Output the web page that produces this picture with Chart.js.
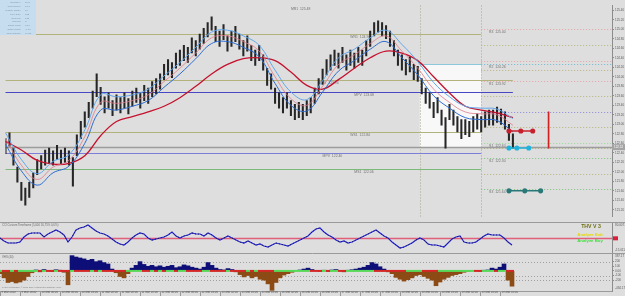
<!DOCTYPE html>
<html>
<head>
<meta charset="utf-8">
<script src="https://cdn.jsdelivr.net/npm/chart.js"></script>
<style>
  html, body { margin: 0; padding: 0; background: #dedede; }
  #wrap { position: relative; width: 625px; height: 296px; overflow: hidden; background: #dedede; }
  canvas { position: absolute; left: 0; }
</style>
</head>
<body>
<div id="wrap">
  <canvas id="mainChart" width="625" height="222" style="top:0px"></canvas>
  <canvas id="oscChart" width="625" height="31" style="top:222px"></canvas>
  <canvas id="histChart" width="625" height="43" style="top:253px"></canvas>
</div>
<script>
// bars on the time axis (last ones are empty space to the right)
var N = 154;
var categories = [];
for (var i = 0; i < N; i++) categories.push('bar ' + i);

var dateLabels = ['9 Mar 2010', '9 Mar 16:00', '10 Mar 00:00', '10 Mar 08:00', '10 Mar 16:00',
  '11 Mar 00:00', '11 Mar 08:00', '11 Mar 16:00', '12 Mar 00:00', '12 Mar 08:00', '12 Mar 16:00',
  '15 Mar 02:00', '15 Mar 10:00', '15 Mar 18:00', '16 Mar 02:00', '16 Mar 10:00', '16 Mar 18:00',
  '17 Mar 02:00', '17 Mar 10:00', '17 Mar 18:00', '18 Mar 02:00', '18 Mar 10:00', '18 Mar 18:00',
  '19 Mar 02:00', '19 Mar 10:00', '19 Mar 18:00'];

// price bars
var priceHigh = [122.70,122.82,122.50,122.10,121.78,121.66,121.78,121.98,122.26,122.34,
  122.46,122.50,122.44,122.56,122.46,122.50,122.44,122.30,122.78,123.06,
  123.26,123.46,123.70,124.06,123.78,123.58,123.66,123.50,123.62,123.56,
  123.66,123.54,123.70,123.76,123.66,123.82,123.76,123.90,123.96,124.06,
  124.26,124.36,124.30,124.50,124.56,124.66,124.62,124.82,124.76,124.90,
  125.02,125.14,125.26,125.06,124.96,125.10,124.86,124.96,125.06,124.90,
  124.76,124.86,124.66,124.56,124.66,124.46,124.18,124.06,123.76,123.66,
  123.56,123.66,123.50,123.42,123.46,123.42,123.50,123.56,123.76,123.96,
  124.16,124.36,124.46,124.56,124.50,124.62,124.46,124.56,124.50,124.62,
  124.56,124.76,124.96,125.14,125.18,125.14,125.08,124.96,124.76,124.56,
  124.46,124.36,124.42,124.26,124.22,123.96,123.76,123.66,123.46,123.56,
  123.30,123.14,123.42,123.30,123.16,123.10,123.10,123.06,123.16,123.22,
  123.16,123.26,123.30,123.30,123.36,123.32,123.26,123.00,122.80];
var priceLow = [122.38,122.54,122.14,121.78,121.40,121.30,121.46,121.66,121.94,122.06,
  122.14,122.18,122.14,122.26,122.16,122.20,122.14,121.70,122.34,122.70,
  122.94,123.14,123.34,123.58,123.42,123.24,123.34,123.18,123.30,123.24,
  123.34,123.22,123.38,123.46,123.34,123.50,123.44,123.58,123.64,123.74,
  123.94,124.04,123.98,124.18,124.24,124.34,124.30,124.50,124.44,124.58,
  124.70,124.84,124.98,124.74,124.64,124.78,124.54,124.64,124.74,124.58,
  124.44,124.54,124.34,124.24,124.34,124.14,123.82,123.74,123.44,123.34,
  123.24,123.34,123.18,123.10,123.14,123.10,123.18,123.24,123.44,123.64,
  123.84,124.04,124.14,124.24,124.18,124.30,124.14,124.24,124.18,124.30,
  124.24,124.44,124.64,124.86,124.94,124.86,124.80,124.64,124.44,124.24,
  124.14,124.04,124.10,123.94,123.90,123.64,123.44,123.34,123.14,123.24,
  122.98,122.50,123.10,122.98,122.84,122.70,122.78,122.74,122.84,122.90,
  122.84,122.94,122.98,122.98,123.04,123.00,122.90,122.66,122.50];

// moving averages, read every 4th bar
var maIndex = [0,4,8,12,16,20,24,28,32,36,40,44,48,52,56,60,64,68,72,76,80,84,88,92,96,100,104,108,112,116,120,124,128];
var bandUpper = [122.82,122.26,121.96,122.22,122.36,122.88,123.62,123.58,123.62,123.74,124.02,124.30,124.62,124.94,124.98,124.86,124.66,124.14,123.68,123.52,123.92,124.40,124.58,124.82,124.98,124.68,124.32,123.88,123.58,123.38,123.34,123.32,123.12];
var bandMid = [122.70,122.14,121.84,122.10,122.24,122.74,123.46,123.44,123.50,123.62,123.90,124.18,124.50,124.82,124.86,124.74,124.54,124.00,123.54,123.40,123.80,124.26,124.46,124.70,124.86,124.54,124.18,123.74,123.46,123.26,123.22,123.20,122.98];
var bandLower = [122.58,122.02,121.72,121.98,122.12,122.60,123.30,123.30,123.38,123.50,123.78,124.06,124.38,124.70,124.74,124.62,124.42,123.86,123.40,123.28,123.68,124.12,124.34,124.58,124.74,124.40,124.04,123.60,123.34,123.14,123.10,123.08,122.84];
var slowMa = [122.64,122.46,122.24,122.16,122.18,122.34,122.76,123.06,123.16,123.26,123.38,123.56,123.80,124.06,124.26,124.38,124.40,124.34,124.10,123.82,123.74,123.94,124.18,124.40,124.54,124.50,124.34,124.00,123.66,123.38,123.30,123.24,123.14];

var priceTicks = [121.2,121.4,121.6,121.8,122.0,122.2,122.4,122.6,122.8,123.0,123.2,123.4,123.6,123.8,124.0,124.2,124.4,124.6,124.8,125.0,125.2,125.4];
var lastPrice = 122.52;

// weekly / monthly pivots
var weekLevels = [125.48, 124.90, 123.94, 123.68, 122.84, 122.40, 122.06];
var weekNames = ['MR1', 'WR1', 'WPV', 'MPV', 'WS1', 'MPV', 'MS1'];
// daily pivots
var dayLevels = [125.00, 124.66, 124.34, 124.26, 124.14, 123.92, 123.60, 123.26, 122.94, 122.60, 122.50, 122.30, 121.96, 121.64];
var dayNames = ['R3', '', '', 'R2', '', 'R1', '', '', '', 'S1', '', 'S2', '', 'S3'];

// trade markers
var exitLevel = 122.86, exitDots = [127, 130, 133];
var entryLevel = 122.50, entryDots = [127, 129, 132];
var targetLevel = 121.60, targetDots = [127, 131, 135];
var signalIndex = 137, signalRange = [122.50, 123.26];
var rangeBox = [104.5, 120, 124.26, 122.52];
var separators = [104.5, 120];

var infoLabels = ['EURJPY:', 'TickVolume:', 'Range Today:', 'Prev Day:', '30 Days:', 'Spread:', 'Swap Long:', 'Swap Short:', 'New Candle:'];
var infoValues = ['16.8', '13.1', '70', '182', '135', '3', '0.54', '-0.84', '04:18'];

// oscillator
var oscValues = [31.0,21.8,15.6,15.6,15.6,18.7,34.0,43.2,46.3,46.3,
  46.3,34.0,43.2,49.4,55.5,49.4,40.2,18.7,34.0,55.5,
  61.6,64.7,70.8,61.6,52.4,46.3,43.2,37.1,27.9,18.7,
  12.6,9.5,18.7,31.0,40.2,46.3,43.2,31.0,24.8,27.9,
  31.0,34.0,40.2,49.4,37.1,31.0,37.1,40.2,46.3,43.2,
  43.2,37.1,46.3,40.2,31.0,24.8,31.0,37.1,31.0,24.8,
  18.7,15.6,21.8,15.6,9.5,12.6,6.4,3.4,9.5,15.6,
  12.6,9.5,6.4,12.6,18.7,24.8,31.0,37.1,49.4,58.5,
  61.6,49.4,40.2,34.0,24.8,18.7,21.8,15.6,18.7,24.8,
  31.0,37.1,43.2,49.4,55.5,46.3,37.1,31.0,18.7,9.5,
  0.3,3.4,9.5,15.6,24.8,31.0,24.8,12.6,9.5,9.5,
  6.4,3.4,15.6,27.9,34.0,37.1,18.7,15.6,15.6,18.7,
  27.9,37.1,43.2,40.2,40.2,40.2,31.0,18.7,9.5];
var oscLevel = 30;
var oscRange = [-15.011, 80.0077];

// histogram
var histValues = [-60,-150,-250,-230,-260,-240,-200,-120,-40,20,
  -20,30,10,-15,25,15,-30,-300,330,300,
  280,260,230,250,200,220,180,150,40,-40,
  -120,-150,-60,60,120,200,140,100,120,90,
  110,80,100,120,70,90,130,110,80,60,
  40,80,180,120,60,30,20,50,30,-20,
  -80,-130,-100,-150,-120,-180,-200,-280,-420,-250,
  -150,-90,-60,-30,10,20,40,60,30,10,
  -10,15,-10,20,30,10,-20,15,25,40,
  60,80,120,180,150,90,40,-20,-60,-140,
  -180,-220,-190,-150,-100,-80,-120,-160,-200,-320,
  -240,-180,-140,-100,-80,-60,-30,-10,10,5,
  -10,15,20,60,40,80,150,-200,-330];
var histRange = [-434.17, 387.17];
var histTicks = [200, 100, 0, -100, -200];
var histDotted = [200, -100, -200];

var FONT = '"Liberation Sans", Arial, sans-serif';

function sparse(idx, vals) {
  var a = [];
  for (var k = 0; k < N; k++) a.push(null);
  idx.forEach(function (p, j) { a[p] = vals[j]; });
  return a;
}

function hLine(ctx, x0, x1, y, color, dash, width) {
  y = Math.round(y) + 0.5;
  ctx.save();
  ctx.strokeStyle = color;
  ctx.lineWidth = width;
  ctx.setLineDash(dash);
  ctx.beginPath();
  ctx.moveTo(x0, y);
  ctx.lineTo(x1, y);
  ctx.stroke();
  ctx.restore();
}

function text(ctx, str, x, y, size, color, align, bold) {
  ctx.save();
  ctx.font = (bold ? 'bold ' : '') + size + 'px ' + FONT;
  ctx.fillStyle = color;
  ctx.textAlign = align || 'left';
  ctx.textBaseline = 'middle';
  ctx.fillText(str, x, y);
  ctx.restore();
}

function fitRight(s) {
  s.width = 13;
  s.paddingTop = 0;
  s.paddingBottom = 0;
}

var weekStyle = [
  { color: 'rgba(0,0,0,0)', to: 120, labelAt: 72 },
  { color: '#b2b27c', to: 120, labelAt: 87 },
  { color: '#b2b27c', to: 128, labelAt: 79 },
  { color: '#4848c4', to: 128, labelAt: 88 },
  { color: '#b2b27c', to: 120, labelAt: 87 },
  { color: '#7e7ed8', to: 120, labelAt: 80 },
  { color: '#7cba7c', to: 120, labelAt: 88 }
];
var dayColors = ['#e6a0a8', '#b4b47c', '#e6a0a8', '#6ab8d0', '#b4b47c', '#e6a0a8', '#b4b47c',
  '#8888d8', '#b4b47c', '#98d898', '#b4b47c', '#7cc07c', '#b4b47c', '#7cc07c'];

var mainDecor = {
  id: 'mainDecor',
  beforeDatasetsDraw: function (chart) {
    var ctx = chart.ctx, xs = chart.scales.x, ys = chart.scales.y, area = chart.chartArea;
    // range box
    var bx0 = xs.getPixelForValue(rangeBox[0]), bx1 = xs.getPixelForValue(rangeBox[1]);
    var by0 = ys.getPixelForValue(rangeBox[2]), by1 = ys.getPixelForValue(rangeBox[3]);
    ctx.save();
    ctx.fillStyle = '#f8f8f8';
    ctx.fillRect(bx0, by0, bx1 - bx0, by1 - by0);
    ctx.restore();
    hLine(ctx, bx0, bx1, by0, '#8cc8dc', [], 1);
    // session separators
    separators.forEach(function (v) {
      var x = Math.round(xs.getPixelForValue(v)) + 0.5;
      ctx.save();
      ctx.strokeStyle = '#a6a68a';
      ctx.setLineDash([1, 2]);
      ctx.beginPath();
      ctx.moveTo(x, area.top);
      ctx.lineTo(x, area.bottom);
      ctx.stroke();
      ctx.restore();
    });
    // weekly / monthly pivots
    weekLevels.forEach(function (v, k) {
      var st = weekStyle[k];
      var y = ys.getPixelForValue(v);
      hLine(ctx, area.left, xs.getPixelForValue(st.to), y, st.color, [], 1);
      text(ctx, weekNames[k] + '  ' + v.toFixed(2), xs.getPixelForValue(st.labelAt), y + 3, 3.4, '#707070');
    });
    // daily pivots
    dayLevels.forEach(function (v, k) {
      var y = ys.getPixelForValue(v);
      hLine(ctx, xs.getPixelForValue(120), area.right, y, dayColors[k], [1, 2], 1);
      if (dayNames[k]) text(ctx, dayNames[k] + '  ' + v.toFixed(2), xs.getPixelForValue(122), y + 3, 3.4, '#707070');
    });
    // current price line
    hLine(ctx, area.left, area.right, ys.getPixelForValue(lastPrice), '#9c9c9c', [], 1.5);
  },
  afterDraw: function (chart) {
    var ctx = chart.ctx, ys = chart.scales.y, area = chart.chartArea;
    // info panel
    ctx.save();
    ctx.fillStyle = '#c6ddef';
    ctx.fillRect(0, 0, 36, 35);
    ctx.restore();
    infoLabels.forEach(function (t, k) {
      text(ctx, t, 21, 2.7 + k * 3.8, 2.5, '#7d96aa', 'right');
      text(ctx, infoValues[k], 25, 2.7 + k * 3.8, 2.5, '#7d96aa', 'left');
    });
    // current price tag on the axis
    var y = ys.getPixelForValue(lastPrice);
    ctx.save();
    ctx.fillStyle = '#a4a4a4';
    ctx.fillRect(area.right, y - 3, 13, 6);
    ctx.restore();
    text(ctx, lastPrice.toFixed(2), area.right + 2, y, 3, '#ffffff');
  }
};

new Chart(document.getElementById('mainChart'), {
  type: 'bar',
  data: {
    labels: categories,
    datasets: [
      { type: 'line', data: sparse(exitDots, [exitLevel, exitLevel, exitLevel]), spanGaps: true,
        borderColor: '#c8202c', backgroundColor: '#c8202c', borderWidth: 1.5, pointRadius: 1.8 },
      { type: 'line', data: sparse(entryDots, [entryLevel, entryLevel, entryLevel]), spanGaps: true,
        borderColor: '#20b4dc', backgroundColor: '#20b4dc', borderWidth: 1.5, pointRadius: 1.8 },
      { type: 'line', data: sparse(targetDots, [targetLevel, targetLevel, targetLevel]), spanGaps: true,
        borderColor: '#2a7878', backgroundColor: '#2a7878', borderWidth: 1.5, pointRadius: 1.8 },
      { type: 'bar', data: sparse([signalIndex], [signalRange]), grouped: false,
        backgroundColor: '#d02020', barThickness: 1 },
      { type: 'line', data: sparse(maIndex, bandUpper), spanGaps: true, tension: 0.4,
        borderColor: '#62a6ea', borderWidth: 1, pointRadius: 0 },
      { type: 'line', data: sparse(maIndex, bandMid), spanGaps: true, tension: 0.4,
        borderColor: '#e07a8c', borderWidth: 0.8, pointRadius: 0 },
      { type: 'line', data: sparse(maIndex, bandLower), spanGaps: true, tension: 0.4,
        borderColor: '#2e6cd0', borderWidth: 1, pointRadius: 0 },
      { type: 'line', data: sparse(maIndex, slowMa), spanGaps: true, tension: 0.4,
        borderColor: '#c4122e', borderWidth: 1.3, pointRadius: 0 },
      { type: 'bar', data: priceHigh.map(function (h, k) { return [priceLow[k], h]; }), grouped: false,
        backgroundColor: '#262626', barThickness: 1.4 }
    ]
  },
  options: {
    responsive: false,
    animation: false,
    devicePixelRatio: 1,
    layout: { padding: 0 },
    plugins: { legend: { display: false }, tooltip: { enabled: false } },
    scales: {
      x: { display: false, offset: false, grid: { offset: false } },
      y: {
        position: 'right', min: 121.06, max: 125.5,
        afterFit: fitRight,
        afterBuildTicks: function (s) { s.ticks = priceTicks.map(function (v) { return { value: v }; }); },
        ticks: { padding: 1, font: { size: 3, family: FONT }, color: '#5c5c5c',
          callback: function (v) { return Number(v).toFixed(2); } },
        grid: { drawOnChartArea: false, tickLength: 2, color: '#8c8c8c' },
        border: { color: '#8c8c8c' }
      }
    }
  },
  plugins: [mainDecor]
});

var oscDecor = {
  id: 'oscDecor',
  beforeDatasetsDraw: function (chart) {
    var ctx = chart.ctx, ys = chart.scales.y, area = chart.chartArea;
    hLine(ctx, 0, 625, 0, '#9a9a9a', [], 1);
    hLine(ctx, area.left, area.right, ys.getPixelForValue(oscLevel), '#e0607a', [], 1.5);
    text(ctx, 'CCI Custom Timeframe (5,000 16,75% 0,0%)', 2, 3.5, 2.8, '#6a6a6a');
  },
  afterDraw: function (chart) {
    var ctx = chart.ctx, ys = chart.scales.y, area = chart.chartArea;
    text(ctx, oscRange[1].toString(), area.right + 3, ys.getPixelForValue(oscRange[1]) + 3, 3, '#5c5c5c');
    text(ctx, oscRange[0].toString(), area.right + 3, ys.getPixelForValue(oscRange[0]) - 3, 3, '#5c5c5c');
    var y = ys.getPixelForValue(oscLevel);
    ctx.save();
    ctx.fillStyle = '#d8203c';
    ctx.fillRect(area.right + 1, y - 2, 5, 4);
    ctx.restore();
    text(ctx, 'THV V 3', 591, 5, 5.2, '#6e6e12', 'center', true);
    text(ctx, 'Analyze Exit', 590, 13, 4.3, '#e4d800', 'center', true);
    text(ctx, 'Analyze Buy', 590, 19, 4.3, '#3ede3e', 'center', true);
  }
};

new Chart(document.getElementById('oscChart'), {
  type: 'line',
  data: {
    labels: categories,
    datasets: [
      { data: oscValues, borderColor: '#10106a', borderWidth: 1, borderDash: [1, 2], pointRadius: 0 },
      { data: oscValues, borderColor: '#2a2ad0', borderWidth: 1.2, pointRadius: 0 }
    ]
  },
  options: {
    responsive: false,
    animation: false,
    devicePixelRatio: 1,
    layout: { padding: 0 },
    plugins: { legend: { display: false }, tooltip: { enabled: false } },
    scales: {
      x: { display: false, offset: false },
      y: {
        position: 'right', min: oscRange[0], max: oscRange[1],
        afterFit: fitRight,
        afterBuildTicks: function (s) { s.ticks = []; },
        ticks: { display: false },
        grid: { display: false },
        border: { color: '#8c8c8c' }
      }
    }
  },
  plugins: [oscDecor]
});

var histDecor = {
  id: 'histDecor',
  beforeDatasetsDraw: function (chart) {
    var ctx = chart.ctx, ys = chart.scales.y, area = chart.chartArea;
    hLine(ctx, 0, 625, 0, '#9a9a9a', [], 1);
    histDotted.forEach(function (v) {
      hLine(ctx, area.left, area.right, ys.getPixelForValue(v), '#a0a0a0', [1, 2], 1);
    });
    text(ctx, 'VHS (44)', 2, 4, 2.8, '#6a6a6a');
    text(ctx, 'FXCM MetaTrader, \u00a9 2001-2009 MetaQuotes Software Corp.', 2, 34, 2.2, '#7a7a7a');
  },
  afterDatasetsDraw: function (chart) {
    var ctx = chart.ctx, xs = chart.scales.x, ys = chart.scales.y;
    var y0 = ys.getPixelForValue(0);
    ctx.save();
    histValues.forEach(function (v, k) {
      var up = k === 0 || v >= histValues[k - 1];
      ctx.fillStyle = up ? '#58d858' : '#d42828';
      ctx.fillRect(xs.getPixelForValue(k) - 2, y0 - 1, 4, 2);
    });
    ctx.restore();
  },
  afterDraw: function (chart) {
    var ys = chart.scales.y, area = chart.chartArea;
    text(chart.ctx, histRange[1].toFixed(2), area.right + 3, ys.getPixelForValue(histRange[1]) + 3, 3, '#5c5c5c');
    text(chart.ctx, histRange[0].toFixed(2), area.right + 3, ys.getPixelForValue(histRange[0]) - 3, 3, '#5c5c5c');
  }
};

new Chart(document.getElementById('histChart'), {
  type: 'bar',
  data: {
    labels: categories,
    datasets: [
      { data: histValues, barPercentage: 1, categoryPercentage: 1,
        backgroundColor: function (c) { return c.raw >= 0 ? '#0e0e78' : '#8c4a14'; } }
    ]
  },
  options: {
    responsive: false,
    animation: false,
    devicePixelRatio: 1,
    layout: { padding: 0 },
    plugins: { legend: { display: false }, tooltip: { enabled: false } },
    scales: {
      x: {
        offset: false,
        afterFit: function (s) { s.height = 5; s.paddingLeft = 0; s.paddingRight = 0; },
        afterBuildTicks: function (s) {
          var t = [];
          for (var k = 0; k < dateLabels.length; k++) t.push({ value: k * 5 });
          s.ticks = t;
        },
        ticks: { autoSkip: false, maxRotation: 0, minRotation: 0, align: 'start', padding: -5, labelOffset: 1.5,
          font: { size: 2.8, family: FONT }, color: '#555555',
          callback: function (v) { return dateLabels[v / 5]; } },
        grid: { drawOnChartArea: false, tickLength: 5, color: '#9a9a9a', offset: false },
        border: { color: '#9a9a9a' }
      },
      y: {
        position: 'right', min: histRange[0], max: histRange[1],
        afterFit: fitRight,
        afterBuildTicks: function (s) { s.ticks = histTicks.map(function (v) { return { value: v }; }); },
        ticks: { padding: 1, font: { size: 3, family: FONT }, color: '#5c5c5c',
          callback: function (v) { return v === 0 ? '0.00' : String(v); } },
        grid: { drawOnChartArea: false, tickLength: 2, color: '#8c8c8c' },
        border: { color: '#8c8c8c' }
      }
    }
  },
  plugins: [histDecor]
});
</script>
</body>
</html>
